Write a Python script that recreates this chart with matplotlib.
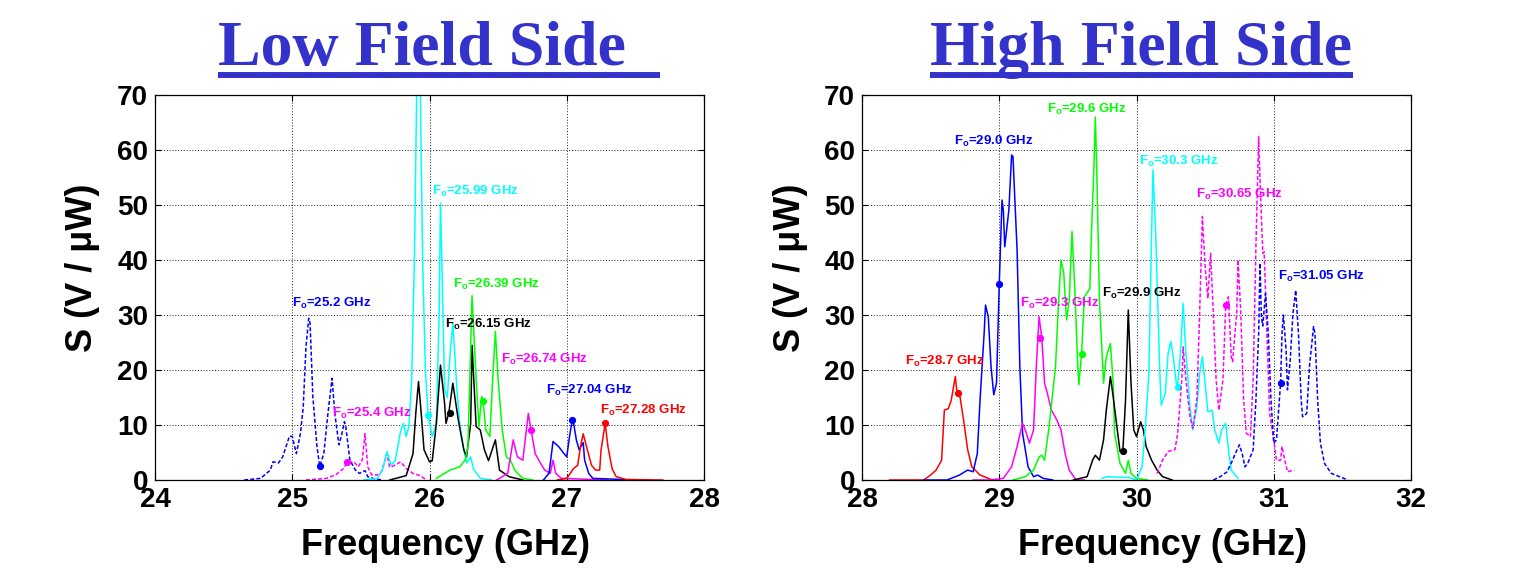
import matplotlib
matplotlib.use("Agg")
import matplotlib.pyplot as plt
from matplotlib.lines import Line2D

plt.rcParams['font.family'] = ['Liberation Sans', 'DejaVu Sans']
plt.rcParams['mathtext.fontset'] = 'custom'
plt.rcParams['mathtext.bf'] = 'Liberation Sans:bold'
plt.rcParams['mathtext.rm'] = 'Liberation Sans:bold'

BLUE, MAG, CYAN, GREEN, BLACK, RED = '#0000ff', '#ff00ff', '#00ffff', '#00ff00', '#000000', '#ff0000'

# ---------------- Low field side spectra (frequency GHz, S in V/uW) ----------------
lfs_252_f = [24.65, 24.77, 24.84, 24.86, 24.90, 24.93, 24.98, 25.00, 25.03, 25.06, 25.08, 25.10, 25.12, 25.13,
             25.15, 25.18, 25.20, 25.23, 25.26, 25.28, 25.29, 25.31, 25.34, 25.36, 25.38, 25.39, 25.42, 25.46,
             25.49, 25.53, 25.55, 25.60, 25.66]
lfs_252_s = [0.0, 0.3, 1.8, 3.3, 3.1, 4.2, 8.0, 7.9, 4.8, 8.5, 13.3, 24.2, 29.4, 28.5,
             15.2, 6.1, 2.5, 4.8, 12.1, 16.4, 18.5, 12.1, 6.4, 8.2, 10.6, 9.7, 3.6, 1.8,
             1.2, 1.7, 0.6, 0.2, 0.0]

lfs_254_f = [25.10, 25.25, 25.32, 25.37, 25.40, 25.45, 25.48, 25.51, 25.53, 25.55, 25.58, 25.62, 25.65, 25.69,
             25.71, 25.74, 25.79, 25.83, 25.88, 25.93, 25.98]
lfs_254_s = [0.0, 0.3, 1.0, 2.0, 3.2, 3.3, 2.4, 3.6, 8.4, 2.4, 0.9, 0.9, 1.5, 4.8,
             2.3, 2.6, 3.3, 2.1, 1.2, 0.8, 0.0]

lfs_2599_f = [25.52, 25.62, 25.66, 25.69, 25.72, 25.75, 25.79, 25.81, 25.83, 25.85, 25.87, 25.89, 25.92, 25.95,
              25.97, 25.99, 26.02, 26.05, 26.07, 26.08, 26.09, 26.11, 26.13, 26.15, 26.17, 26.20, 26.22, 26.25,
              26.27, 26.30, 26.32, 26.37, 26.45]
lfs_2599_s = [0.0, 0.3, 2.0, 5.2, 2.7, 3.5, 9.0, 10.3, 7.9, 9.7, 18.2, 40.0, 95.0, 40.0,
              20.0, 11.8, 7.9, 10.3, 30.0, 50.3, 40.0, 16.4, 15.0, 23.0, 28.5, 16.4, 10.3, 5.5,
              3.1, 4.2, 2.0, 0.3, 0.0]

lfs_2615_f = [25.71, 25.83, 25.88, 25.90, 25.92, 25.94, 25.96, 26.00, 26.02, 26.05, 26.08, 26.11, 26.12, 26.14,
              26.17, 26.21, 26.25, 26.27, 26.30, 26.31, 26.34, 26.37, 26.40, 26.43, 26.48, 26.51, 26.58, 26.63,
              26.68]
lfs_2615_s = [0.0, 0.8, 4.8, 12.1, 17.9, 12.0, 5.5, 3.3, 3.5, 10.3, 20.9, 13.9, 10.3, 12.1,
              17.6, 10.9, 5.5, 4.2, 10.3, 24.5, 9.7, 9.1, 5.5, 3.5, 7.3, 1.8, 0.6, 0.3,
              0.0]

lfs_2639_f = [26.05, 26.15, 26.22, 26.26, 26.28, 26.30, 26.31, 26.34, 26.36, 26.38, 26.39, 26.41, 26.44, 26.46,
              26.48, 26.50, 26.53, 26.56, 26.59, 26.62, 26.68, 26.75]
lfs_2639_s = [0.3, 1.8, 2.4, 3.6, 6.1, 24.2, 33.5, 18.2, 9.7, 15.2, 14.4, 9.1, 7.9, 18.2,
              27.0, 18.2, 9.1, 4.2, 3.6, 1.8, 0.3, 0.0]

lfs_2674_f = [26.49, 26.57, 26.61, 26.64, 26.68, 26.70, 26.72, 26.74, 26.77, 26.81, 26.84, 26.88, 26.90, 26.92,
              26.96, 27.30]
lfs_2674_s = [0.0, 1.2, 7.3, 4.2, 3.6, 7.9, 12.1, 9.1, 4.8, 3.0, 1.8, 1.2, 3.6, 1.2,
              0.3, 0.0]

lfs_2704_f = [26.83, 26.87, 26.88, 26.90, 26.94, 26.98, 27.00, 27.02, 27.04, 27.05, 27.07, 27.09, 27.12, 27.13,
              27.16, 27.19, 27.50]
lfs_2704_s = [0.0, 1.2, 3.0, 7.0, 6.1, 4.8, 4.2, 7.9, 10.9, 10.3, 7.3, 5.5, 6.8, 3.6,
              1.2, 0.3, 0.0]

lfs_2728_f = [26.93, 27.00, 27.05, 27.08, 27.10, 27.12, 27.15, 27.18, 27.21, 27.24, 27.25, 27.28, 27.30, 27.33,
              27.36, 27.43, 27.70]
lfs_2728_s = [0.0, 0.3, 2.1, 2.7, 6.1, 8.4, 5.5, 2.7, 1.8, 1.8, 5.5, 10.3, 6.1, 2.1,
              0.6, 0.1, 0.0]

# ---------------- High field side spectra ----------------
hfs_287_f = [28.20, 28.45, 28.50, 28.54, 28.58, 28.60, 28.63, 28.65, 28.68, 28.69, 28.71, 28.74, 28.77, 28.80,
             28.86, 28.92, 28.95]
hfs_287_s = [0.0, 0.0, 0.9, 1.8, 3.6, 12.7, 13.0, 14.5, 18.8, 16.4, 15.8, 10.9, 5.5, 2.4,
             0.9, 0.3, 0.0]

hfs_290_f = [28.45, 28.62, 28.71, 28.77, 28.81, 28.84, 28.86, 28.89, 28.90, 28.92, 28.94, 28.96, 28.98, 29.00,
             29.02, 29.03, 29.04, 29.07, 29.09, 29.10, 29.13, 29.15, 29.17, 29.21, 29.25, 29.28, 29.32, 29.39]
hfs_290_s = [0.0, 0.0, 0.9, 1.8, 1.5, 4.8, 14.5, 26.7, 31.8, 29.7, 20.6, 15.5, 17.6, 35.6,
             50.9, 49.0, 42.4, 49.1, 59.1, 58.8, 41.8, 20.6, 8.5, 2.4, 0.6, 0.9, 0.3, 0.0]

hfs_293_f = [28.81, 28.93, 29.03, 29.09, 29.13, 29.17, 29.19, 29.22, 29.25, 29.27, 29.29, 29.31, 29.33, 29.35,
             29.38, 29.42, 29.45, 29.48, 29.51, 29.56, 29.62]
hfs_293_s = [0.0, 0.0, 0.3, 2.4, 6.1, 10.3, 9.1, 6.7, 9.1, 20.6, 29.7, 25.9, 17.6, 15.8,
             12.7, 10.9, 9.1, 4.8, 1.8, 0.0, 0.0]

hfs_296_f = [29.10, 29.19, 29.25, 29.29, 29.31, 29.33, 29.36, 29.41, 29.43, 29.45, 29.47, 29.49, 29.51, 29.53,
             29.55, 29.57, 29.58, 29.60, 29.62, 29.66, 29.67, 29.69, 29.70, 29.71, 29.73, 29.76, 29.78, 29.81,
             29.83, 29.84, 29.88, 29.92, 29.94, 29.96, 30.00, 30.08]
hfs_296_s = [0.0, 0.6, 1.8, 4.2, 4.5, 3.6, 9.1, 20.6, 31.5, 40.0, 37.6, 29.1, 32.7, 45.2,
             35.2, 21.8, 17.3, 23.0, 33.3, 34.8, 43.6, 57.0, 66.0, 57.0, 32.7, 17.6, 22.4, 24.8,
             17.6, 8.5, 3.0, 1.2, 3.6, 1.2, 0.3, 0.0]

hfs_299_f = [29.54, 29.64, 29.68, 29.70, 29.73, 29.76, 29.78, 29.81, 29.83, 29.86, 29.88, 29.90, 29.92, 29.94,
             29.96, 29.98, 30.00, 30.03, 30.05, 30.07, 30.11, 30.15, 30.19, 30.26]
hfs_299_s = [0.0, 0.6, 3.6, 4.5, 3.6, 7.3, 12.7, 18.8, 15.2, 9.1, 5.2, 5.0, 14.5, 30.9,
             17.6, 9.1, 7.9, 10.6, 9.1, 6.1, 3.6, 1.8, 0.6, 0.0]

hfs_303_f = [29.75, 29.78, 29.88, 29.94, 30.00, 30.04, 30.06, 30.09, 30.11, 30.12, 30.14, 30.17, 30.18, 30.21,
             30.23, 30.25, 30.27, 30.29, 30.30, 30.32, 30.34, 30.36, 30.39, 30.41, 30.44, 30.46, 30.48, 30.50,
             30.52, 30.55, 30.57, 30.60, 30.62, 30.65, 30.67, 30.69, 30.74]
hfs_303_s = [0.3, 0.6, 0.5, 0.5, 0.0, 2.4, 7.9, 19.4, 44.8, 56.4, 44.8, 19.4, 13.6, 15.8,
             23.0, 25.2, 22.0, 17.6, 17.0, 23.0, 32.1, 23.0, 13.0, 9.1, 13.3, 19.4, 22.4, 17.6,
             12.4, 12.7, 9.1, 6.7, 9.1, 10.3, 5.5, 1.8, 0.3]

hfs_3065_f = [30.15, 30.19, 30.23, 30.28, 30.30, 30.33, 30.34, 30.36, 30.39, 30.41, 30.44, 30.46, 30.48, 30.50,
              30.52, 30.54, 30.56, 30.58, 30.60, 30.63, 30.65, 30.67, 30.69, 30.70, 30.73, 30.74, 30.76, 30.78,
              30.80, 30.83, 30.85, 30.87, 30.89, 30.90, 30.92, 30.93, 30.95, 30.97, 31.00, 31.02, 31.05, 31.06,
              31.08, 31.10, 31.15]
hfs_3065_s = [1.2, 3.6, 5.2, 5.5, 8.5, 18.2, 24.2, 18.2, 11.5, 9.4, 14.8, 30.3, 47.9, 38.8,
              33.0, 41.2, 30.3, 18.2, 12.7, 18.2, 31.8, 33.3, 22.4, 21.5, 30.3, 40.0, 30.3, 14.8,
              8.5, 7.9, 18.2, 42.4, 62.4, 54.5, 41.2, 41.5, 26.7, 12.1, 7.3, 3.6, 3.6, 6.1,
              3.6, 1.5, 1.8]

hfs_3105_f = [30.56, 30.61, 30.66, 30.70, 30.72, 30.75, 30.77, 30.79, 30.81, 30.85, 30.87, 30.89, 30.90, 30.91,
              30.92, 30.94, 30.96, 30.98, 31.00, 31.02, 31.05, 31.06, 31.07, 31.09, 31.10, 31.12, 31.14, 31.16,
              31.18, 31.20, 31.21, 31.24, 31.26, 31.29, 31.30, 31.32, 31.34, 31.37, 31.42, 31.48, 31.54]
hfs_3105_s = [0.0, 0.6, 1.5, 3.6, 4.8, 6.4, 4.8, 2.4, 3.0, 5.5, 14.5, 26.7, 39.4, 29.7,
              28.0, 33.9, 26.7, 14.5, 6.7, 7.3, 17.7, 26.7, 30.0, 23.6, 16.4, 21.8, 30.3, 34.5,
              26.7, 14.5, 11.5, 12.1, 20.6, 27.9, 26.7, 14.5, 6.7, 3.0, 1.2, 0.6, 0.0]

# Resonance frequencies (GHz) with the signal level at each marker
lfs_fo = [25.2, 25.4, 25.99, 26.15, 26.39, 26.74, 27.04, 27.28]
lfs_fo_s = [2.5, 3.2, 11.8, 12.1, 14.4, 9.1, 10.9, 10.3]
hfs_fo = [28.7, 29.0, 29.3, 29.6, 29.9, 30.3, 30.65, 31.05]
hfs_fo_s = [15.8, 35.6, 25.9, 23.0, 5.2, 17.0, 31.8, 17.7]
fo_labels_lfs = ['25.2', '25.4', '25.99', '26.15', '26.39', '26.74', '27.04', '27.28']
fo_labels_hfs = ['28.7', '29.0', '29.3', '29.6', '29.9', '30.3', '30.65', '31.05']

# Label anchors (left edge of "F", baseline) in data units
lfs_lab_x = [25.00, 25.29, 26.02, 26.11, 26.17, 26.52, 26.85, 27.24]
lfs_lab_y = [31.5, 11.5, 51.8, 27.6, 35.0, 21.3, 15.6, 12.1]
hfs_lab_x = [28.31, 28.67, 29.15, 29.35, 29.75, 30.02, 30.43, 31.03]
hfs_lab_y = [20.9, 61.0, 31.4, 66.7, 33.3, 57.3, 51.2, 36.4]

lfs_curves = [(lfs_252_f, lfs_252_s, BLUE, True), (lfs_254_f, lfs_254_s, MAG, True),
              (lfs_2599_f, lfs_2599_s, CYAN, False), (lfs_2615_f, lfs_2615_s, BLACK, False),
              (lfs_2639_f, lfs_2639_s, GREEN, False), (lfs_2674_f, lfs_2674_s, MAG, False),
              (lfs_2704_f, lfs_2704_s, BLUE, False), (lfs_2728_f, lfs_2728_s, RED, False)]
hfs_curves = [(hfs_287_f, hfs_287_s, RED, False), (hfs_290_f, hfs_290_s, BLUE, False),
              (hfs_293_f, hfs_293_s, MAG, False), (hfs_296_f, hfs_296_s, GREEN, False),
              (hfs_299_f, hfs_299_s, BLACK, False), (hfs_303_f, hfs_303_s, CYAN, False),
              (hfs_3065_f, hfs_3065_s, MAG, True), (hfs_3105_f, hfs_3105_s, BLUE, True)]

W, H = 1523, 578
fig = plt.figure(figsize=(W / 100, H / 100), dpi=100)


def px_rect(x0, x1, y_top, y_bot):
    return [x0 / W, 1 - y_bot / H, (x1 - x0) / W, (y_bot - y_top) / H]


def setup_axes(ax, xlim, xticks):
    ax.set_xlim(*xlim)
    ax.set_ylim(0, 70)
    ax.set_xticks(xticks)
    ax.set_yticks(range(0, 71, 10))
    ax.grid(True, color='black', linestyle=(0, (1.2, 2.2)), linewidth=0.6)
    ax.tick_params(direction='in', length=4, width=0.8, top=True, right=True,
                   labelsize=20, pad=5)
    for lab in ax.get_xticklabels() + ax.get_yticklabels():
        lab.set_fontweight('bold')
    for sp in ax.spines.values():
        sp.set_linewidth(0.9)
    ax.set_xlabel('Frequency (GHz)', fontsize=26, fontweight='bold')
    ax.set_ylabel('S (V / \u03bcW)', fontsize=26, fontweight='bold')


def draw_panel(ax, curves, fo, fo_s, labels, lab_x, lab_y):
    for (f, s, c, dashed), f0, s0, lab, lx, ly in zip(curves, fo, fo_s, labels, lab_x, lab_y):
        ls = (0, (2.6, 1.4)) if dashed else '-'
        ax.plot(f, s, color=c, lw=1.1, linestyle=ls)
        ax.plot([f0], [s0], 'o', color=c, ms=4.2)
        ax.text(lx, ly, r'F$_{\mathbf{o}}$=' + lab + ' GHz', color=c, fontsize=9.5,
                fontweight='bold', ha='left', va='baseline')


ax1 = fig.add_axes(px_rect(155, 704, 95, 480))
setup_axes(ax1, (24, 28), [24, 25, 26, 27, 28])
draw_panel(ax1, lfs_curves, lfs_fo, lfs_fo_s, fo_labels_lfs, lfs_lab_x, lfs_lab_y)
ax1.xaxis.set_label_coords((445.5 - 155) / 549, (480 - 528) / 385)
ax1.yaxis.set_label_coords((100 - 155) / 549, 0.55)

ax2 = fig.add_axes(px_rect(862, 1411, 95, 480))
setup_axes(ax2, (28, 32), [28, 29, 30, 31, 32])
draw_panel(ax2, hfs_curves, hfs_fo, hfs_fo_s, fo_labels_hfs, hfs_lab_x, hfs_lab_y)
ax2.xaxis.set_label_coords((1162.5 - 862) / 549, (480 - 528) / 385)
ax2.yaxis.set_label_coords((808 - 862) / 549, 0.55)

# Underlined serif titles
TITLE_C = '#3333cc'
for txt, x0, x1 in [('Low Field Side', 218, 660), ('High Field Side', 930, 1353)]:
    fig.text(x0 / W, 1 - 65 / H, txt, fontsize=46, fontweight='bold', color=TITLE_C,
             family='Liberation Serif', ha='left', va='baseline')
    fig.add_artist(Line2D([x0 / W, x1 / W], [1 - 74.5 / H] * 2, color=TITLE_C, lw=4.3,
                          solid_capstyle='butt', transform=fig.transFigure))

fig.savefig('out.png', dpi=100)
